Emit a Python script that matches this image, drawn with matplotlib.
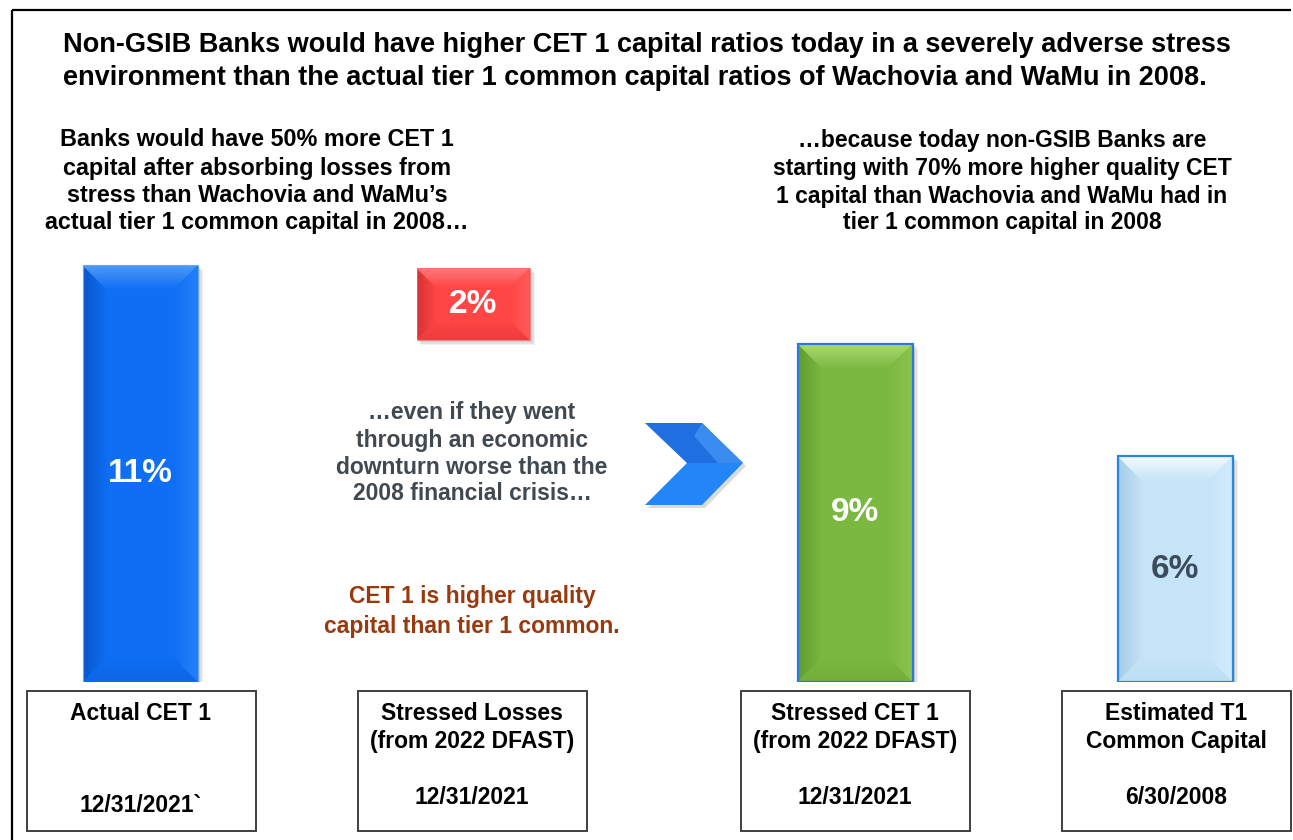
import numpy as np
import matplotlib
matplotlib.use('Agg')
import matplotlib.pyplot as plt
from matplotlib.patches import Polygon, Rectangle
from matplotlib.colors import to_rgb

# ---------------- data ----------------
categories = ['Actual CET 1', 'Stressed Losses', 'Stressed CET 1', 'Estimated T1 Common Capital']
values = [11.05, 1.91, 8.97, 5.99]
bottoms = [0.0, 9.07, 0.0, 0.0]
value_labels = ['11%', '2%', '9%', '6%']
box_titles = ['Actual CET 1', 'Stressed Losses\n(from 2022 DFAST)',
              'Stressed CET 1\n(from 2022 DFAST)', 'Estimated T1\nCommon Capital']
box_dates = ['12/31/2021`', '12/31/2021', '12/31/2021', '6/30/2008']

title_lines = ['Non-GSIB Banks would have higher CET 1 capital ratios today in a severely adverse stress',
               'environment than the actual tier 1 common capital ratios of Wachovia and WaMu in 2008.']
left_note = ['Banks would have 50% more CET 1', 'capital after absorbing losses from',
             'stress than Wachovia and WaMu\u2019s', 'actual tier 1 common capital in 2008\u2026']
right_note = ['\u2026because today non-GSIB Banks are', 'starting with 70% more higher quality CET',
              '1 capital than Wachovia and WaMu had in', 'tier 1 common capital in 2008']
mid_note = ['\u2026even if they went', 'through an economic', 'downturn worse than the',
            '2008 financial crisis\u2026']
brown_note = ['CET 1 is higher quality', 'capital than tier 1 common.']

# ---------------- style / layout ----------------
plt.rcParams['font.family'] = ['Liberation Sans', 'DejaVu Sans']
W, H = 1293, 840
PPU = 37.7          # pixels per percentage point
BASE_Y = 682        # pixel row of 0%
TOP_Y = 240

bar_x = [140, 473, 855, 1175]
bar_w = [115, 113, 115, 115]
styles = [
    dict(base='#0e6ef4', top='#4f9bf7', left='#0a58cc', right='#2680f7', bot='#0c66e6',
         edge='#6aa6ea', elw=0.8, txt='white'),
    dict(base='#ff4646', top='#ff7d7d', left='#d83232', right='#ff5a5a', bot='#ec3c3c',
         edge='#ff6a6a', elw=0.5, txt='white'),
    dict(base='#7bb840', top='#a9da70', left='#619d2e', right='#8ac44d', bot='#72ae38',
         edge='#2a7ad8', elw=1.6, txt='white'),
    dict(base='#c6e4f7', top='#f2fbff', left='#a6cce5', right='#d2ecfb', bot='#bcdff4',
         edge='#2a86dc', elw=1.6, txt='#3b4b5b'),
]
box_cx = [141, 472, 855, 1176]
box_w = 229
FS_NOTE = 16.5

fig = plt.figure(figsize=(W / 100, H / 100), dpi=100)
fig.patch.set_facecolor('white')

ov = fig.add_axes([0, 0, 1, 1], zorder=0)
ov.set_xlim(0, W)
ov.set_ylim(H, 0)
ov.axis('off')

bx = fig.add_axes([0, (H - BASE_Y) / H, 1, (BASE_Y - TOP_Y) / H], zorder=1)
bx.patch.set_alpha(0)
ymax = (BASE_Y - TOP_Y) / PPU
bx.axis('off')


def grad_poly(ax, verts, c0, c1, orient, zorder):
    verts = np.array(verts, dtype=float)
    xmin, xmax = verts[:, 0].min(), verts[:, 0].max()
    ymin, ymax_ = verts[:, 1].min(), verts[:, 1].max()
    t = np.linspace(0, 1, 64)
    a, b = np.array(to_rgb(c0)), np.array(to_rgb(c1))
    cols = a[None, :] * (1 - t[:, None]) + b[None, :] * t[:, None]
    img = cols[None, :, :] if orient == 'h' else cols[:, None, :]
    poly = Polygon(verts, closed=True, facecolor='none', edgecolor='none')
    ax.add_patch(poly)
    im = ax.imshow(img, extent=(xmin, xmax, ymin, ymax_), origin='lower',
                   aspect='auto', interpolation='bilinear', zorder=zorder)
    im.set_clip_path(poly)


# shadows
for x, w, v, b0 in zip(bar_x, bar_w, values, bottoms):
    for k, a in [(5, 0.10), (3.5, 0.15), (2, 0.2)]:
        bx.bar(x + k, v, width=w + 1, bottom=b0 - k / PPU, color='#7f7f7f', alpha=a,
               linewidth=0, zorder=1)

bars = bx.bar(bar_x, values, width=bar_w, bottom=bottoms,
              color=[s['base'] for s in styles], linewidth=0, zorder=2)

for rect, s, lab in zip(bars, styles, value_labels):
    x0 = rect.get_x()
    x1 = x0 + rect.get_width()
    y0 = rect.get_y()
    y1 = y0 + rect.get_height()
    hpx = rect.get_height() * PPU
    bpx = min(25, hpx * 0.27)
    b = bpx
    bv = bpx / PPU
    grad_poly(bx, [(x0, y0), (x0, y1), (x0 + b, y1 - bv), (x0 + b, y0 + bv)],
              s['left'], s['base'], 'h', 3)
    grad_poly(bx, [(x1, y0), (x1, y1), (x1 - b, y1 - bv), (x1 - b, y0 + bv)],
              s['base'], s['right'], 'h', 3)
    grad_poly(bx, [(x0, y0), (x1, y0), (x1 - b, y0 + bv), (x0 + b, y0 + bv)],
              s['bot'], s['base'], 'v', 3)
    grad_poly(bx, [(x0, y1), (x1, y1), (x1 - b, y1 - bv), (x0 + b, y1 - bv)],
              s['base'], s['top'], 'v', 3)
    bx.add_patch(Rectangle((x0, y0), x1 - x0, y1 - y0, facecolor='none',
                           edgecolor=s['edge'], linewidth=s['elw'], zorder=4))
    bx.text((x0 + x1) / 2, (y0 + y1) / 2, lab, ha='center', va='center',
            fontsize=24, fontweight='bold', color=s['txt'], zorder=5)

bx.set_xlim(0, W)
bx.set_ylim(0, ymax)

# chevron
chev_shadow = [(648, 426), (705, 426), (746, 466), (705, 508), (648, 508), (690, 466)]
ov.add_patch(Polygon(chev_shadow, closed=True, facecolor='#9a9a9a', alpha=0.35,
                     edgecolor='none', zorder=1))
top_half = [(645, 423), (702, 423), (743, 463), (687, 463)]
bot_half = [(687, 463), (743, 463), (702, 505), (645, 505)]
ov.add_patch(Polygon(top_half, closed=True, facecolor='#1f6fe0', edgecolor='none', zorder=2))
ov.add_patch(Polygon(bot_half, closed=True, facecolor='#2286f6', edgecolor='none', zorder=2))
ov.add_patch(Polygon([(702, 423), (743, 463), (718, 463), (694, 436)], closed=True,
                     facecolor='#3a8cf0', edgecolor='none', zorder=2))

# outer frame (left and top)
ov.plot([12, 12], [H + 5, 10], color='black', lw=1.6, solid_capstyle='butt', zorder=2)
ov.plot([12, 1291], [10, 10], color='black', lw=1.6, solid_capstyle='butt', zorder=2)

# title
for i, line in enumerate(title_lines):
    ov.text(63, 45 + 33 * i, line, ha='left', va='center', fontsize=19.5,
            fontweight='bold', color='black')

# side notes
note_y = [140, 168, 196, 223]
for y, line in zip(note_y, left_note):
    ov.text(257, y, line, ha='center', va='center', fontsize=16.8, fontweight='bold', color='black')
for y, line in zip(note_y, right_note):
    ov.text(1002, y, line, ha='center', va='center', fontsize=FS_NOTE, fontweight='bold', color='black')

for y, line in zip([412, 440, 467, 494], mid_note):
    ov.text(472, y, line, ha='center', va='center', fontsize=FS_NOTE, fontweight='bold', color='#404850')
for y, line in zip([597, 626], brown_note):
    ov.text(472, y, line, ha='center', va='center', fontsize=FS_NOTE, fontweight='bold', color='#983a0e')

# category boxes
for cx, t, d in zip(box_cx, box_titles, box_dates):
    ov.add_patch(Rectangle((cx - box_w / 2, 691), box_w, 140, facecolor='white',
                           edgecolor='#3f3f3f', linewidth=1.4, zorder=2))
    lines = t.split('\n')
    for j, ln in enumerate(lines):
        ov.text(cx, 713 + 28.5 * j, ln, ha='center', va='center', fontsize=16.5,
                fontweight='bold', color='black', zorder=3)
    dy = 806 if len(lines) == 1 else 797
    ov.text(cx, dy, d, ha='center', va='center', fontsize=16.5, fontweight='bold',
            color='black', zorder=3)

fig.savefig('out.png', dpi=100, facecolor='white')
